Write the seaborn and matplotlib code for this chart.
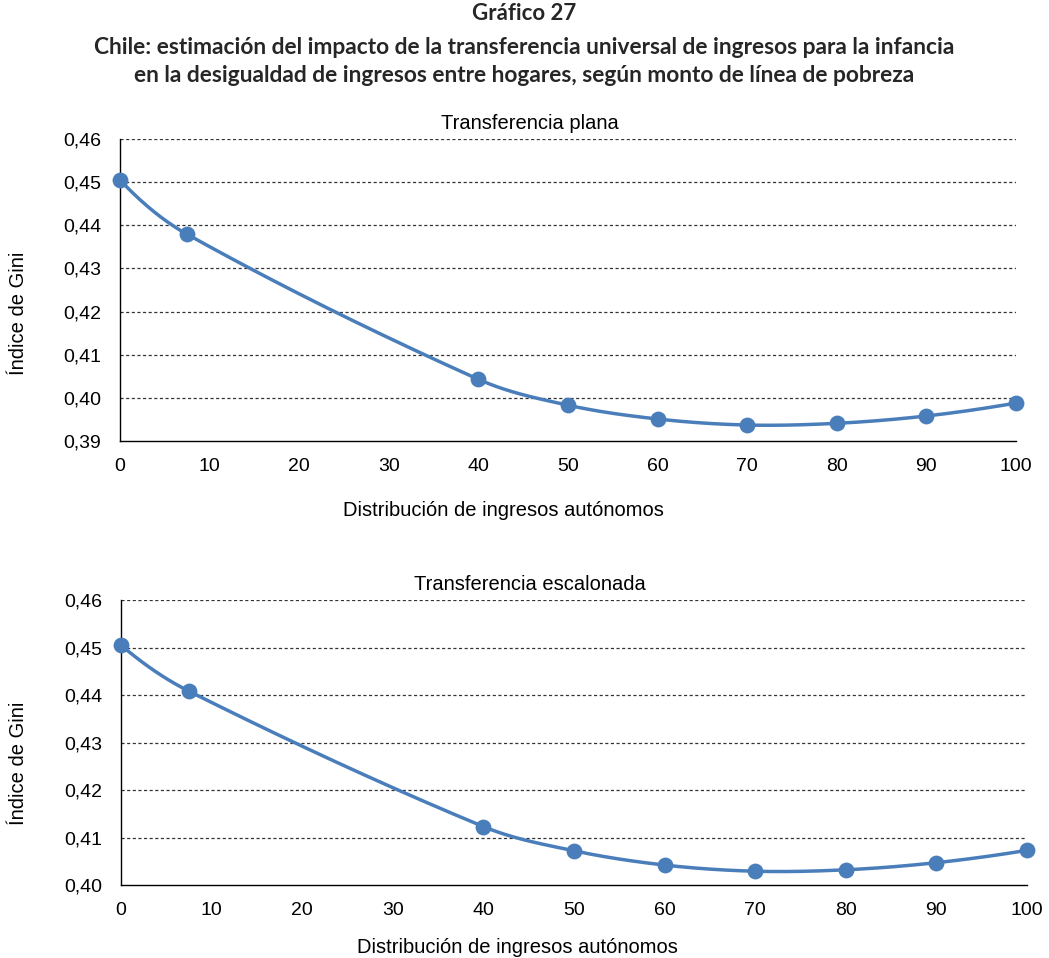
import numpy as np
import pandas as pd
import matplotlib
matplotlib.use("Agg")
import matplotlib.pyplot as plt
import seaborn as sns
from matplotlib.ticker import FuncFormatter, FixedLocator

# ---- data ----
linea_pobreza = [0, 7.5, 40, 50, 60, 70, 80, 90, 100]
gini_plana = [0.4505, 0.4379, 0.4043, 0.3983, 0.3951, 0.3937, 0.3941, 0.3958, 0.3988]
gini_escalonada = [0.4505, 0.4408, 0.4123, 0.4072, 0.4042, 0.4029, 0.4032, 0.4047, 0.4073]
x_ticks = [0, 10, 20, 30, 40, 50, 60, 70, 80, 90, 100]
y_ticks_plana = [0.39, 0.40, 0.41, 0.42, 0.43, 0.44, 0.45, 0.46]
y_ticks_escalonada = [0.40, 0.41, 0.42, 0.43, 0.44, 0.45, 0.46]

title_lines = ["Gráfico 27",
               "Chile: estimación del impacto de la transferencia universal de ingresos para la infancia",
               "en la desigualdad de ingresos entre hogares, según monto de línea de pobreza"]
panel_titles = ["Transferencia plana", "Transferencia escalonada"]
xlabel = "Distribución de ingresos autónomos"
ylabel = "Índice de Gini"

COLOR = "#4A7EBB"

sns.set_style("white")
plt.rcParams["font.family"] = ["Liberation Sans", "DejaVu Sans"]


def smooth_curve(x, y, n=40):
    """Cubic Hermite curve through the data points (line smoothing only)."""
    x = np.asarray(x, float)
    y = np.asarray(y, float)
    k = len(x)
    m = np.zeros(k)
    for i in range(1, k - 1):
        m[i] = (y[i + 1] - y[i - 1]) / (x[i + 1] - x[i - 1])
    m[0] = 2 * (y[1] - y[0]) / (x[1] - x[0]) - m[1]
    m[-1] = 2 * (y[-1] - y[-2]) / (x[-1] - x[-2]) - m[-2]
    xs, ys = [], []
    for i in range(k - 1):
        h = x[i + 1] - x[i]
        t = np.linspace(0, 1, n, endpoint=(i == k - 2))
        h00 = 2 * t ** 3 - 3 * t ** 2 + 1
        h10 = t ** 3 - 2 * t ** 2 + t
        h01 = -2 * t ** 3 + 3 * t ** 2
        h11 = t ** 3 - t ** 2
        xs.append(x[i] + t * h)
        ys.append(h00 * y[i] + h10 * h * m[i] + h01 * y[i + 1] + h11 * h * m[i + 1])
    return np.concatenate(xs), np.concatenate(ys)


fig = plt.figure(figsize=(10.49, 9.58), dpi=100)
W, H = 1049, 958


def ax_rect(l, t, r, b):
    return [l / W, 1 - b / H, (r - l) / W, (b - t) / H]


axes_specs = [
    dict(rect=ax_rect(120, 139, 1016, 441), vals=gini_plana, yt=y_ticks_plana,
         title=panel_titles[0], title_x=0.458, xl=(0.428, -0.200), yl=(-0.103, 0.424)),
    dict(rect=ax_rect(121, 600, 1027, 885), vals=gini_escalonada, yt=y_ticks_escalonada,
         title=panel_titles[1], title_x=0.451, xl=(0.438, -0.185), yl=(-0.103, 0.428)),
]

fmt = FuncFormatter(lambda v, p: f"{v:.2f}".replace(".", ","))

for spec in axes_specs:
    ax = fig.add_axes(spec["rect"])
    yt = spec["yt"]
    df = pd.DataFrame({"x": linea_pobreza, "y": spec["vals"]})
    cx, cy = smooth_curve(df["x"], df["y"])
    ax.plot(cx, cy, color=COLOR, lw=2.5, zorder=3, solid_capstyle="round")
    sns.scatterplot(data=df, x="x", y="y", ax=ax, color=COLOR, s=130, edgecolor=COLOR,
                    linewidth=0, zorder=4, clip_on=False)
    ax.set_xlim(0, 100)
    ax.set_ylim(yt[0], yt[-1])
    ax.xaxis.set_major_locator(FixedLocator(x_ticks))
    ax.yaxis.set_major_locator(FixedLocator(yt))
    ax.yaxis.set_major_formatter(fmt)
    for v in yt[1:]:
        ax.axhline(v, color="#333333", lw=0.9, ls=(0, (2.5, 2)), zorder=1)
    for s in ["top", "right"]:
        ax.spines[s].set_visible(False)
    for s in ["left", "bottom"]:
        ax.spines[s].set_color("black")
        ax.spines[s].set_linewidth(1.0)
    ax.tick_params(axis="both", which="major", direction="out", length=4.5, width=1,
                   color="black", labelsize=14, labelcolor="black")
    ax.tick_params(axis="x", pad=8)
    ax.tick_params(axis="y", pad=9)
    ax.set_xlabel(xlabel, fontsize=14.5, color="black")
    ax.set_ylabel(ylabel, fontsize=14.5, color="black")
    ax.xaxis.set_label_coords(*spec["xl"])
    ax.yaxis.set_label_coords(*spec["yl"])
    ax.set_title(spec["title"], fontsize=14.5, x=spec["title_x"], pad=7, color="black")
    ax.grid(False)

tfont = ["Lato", "DejaVu Sans"]
fig.text(0.5, 1 - 13 / H, title_lines[0], ha="center", va="center", fontsize=16,
         fontweight="bold", family=tfont)
fig.text(0.5, 1 - 47 / H, title_lines[1], ha="center", va="center", fontsize=16.4,
         fontweight="bold", family=tfont)
fig.text(0.5, 1 - 75 / H, title_lines[2], ha="center", va="center", fontsize=16.4,
         fontweight="bold", family=tfont)

fig.savefig("out.png", dpi=100)
